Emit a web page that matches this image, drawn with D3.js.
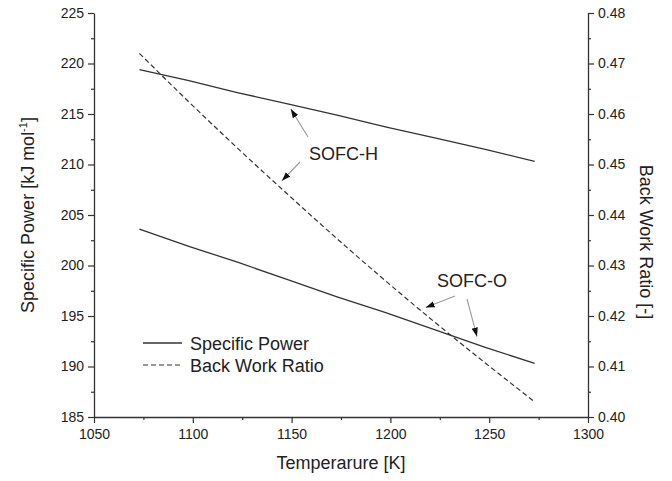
<!DOCTYPE html>
<html><head><meta charset="utf-8">
<script src="https://cdn.jsdelivr.net/npm/d3@7/dist/d3.min.js"></script>
<style>
html,body{margin:0;padding:0;background:#fff;}
text{font-family:"Liberation Sans",Arial,sans-serif;fill:#222;}
</style></head>
<body>
<svg id="c" width="672" height="481"></svg>
<script>
// ---- data ----
const temperature = [1073, 1098, 1123, 1148, 1173, 1198, 1223, 1248, 1273];
const powerSOFC_H = [219.4, 218.3, 217.1, 216.0, 214.9, 213.7, 212.6, 211.5, 210.3];
const powerSOFC_O = [203.6, 201.9, 200.3, 198.6, 196.9, 195.3, 193.6, 191.9, 190.3];
const backWorkRatio = [0.4720, 0.4624, 0.4531, 0.4441, 0.4353, 0.4268, 0.4186, 0.4107, 0.4030];
const xTicks = [1050, 1100, 1150, 1200, 1250, 1300];
const yLeftTicks = [185, 190, 195, 200, 205, 210, 215, 220, 225];
const yRightTicks = [0.40, 0.41, 0.42, 0.43, 0.44, 0.45, 0.46, 0.47, 0.48];
const legendLabels = ["Specific Power", "Back Work Ratio"];
const annotationLabels = ["SOFC-H", "SOFC-O"];

const svg = d3.select("#c");
const L = 94, R = 588, T = 13, B = 417;
const x = d3.scaleLinear().domain([1050, 1300]).range([L, R]);
const yL = d3.scaleLinear().domain([185, 225]).range([B, T]);
const yR = d3.scaleLinear().domain([0.40, 0.48]).range([B, T]);
const ink = "#333";

function styleAxis(g, fs) {
  g.selectAll("path.domain").attr("stroke", ink).attr("stroke-width", 1.3);
  g.selectAll(".tick line").attr("stroke", ink).attr("stroke-width", 1.2);
  g.selectAll("text").attr("font-size", fs).attr("font-family", '"Liberation Sans",Arial,sans-serif').attr("fill", "#222");
}
const mid = (arr, step) => arr.slice(0, -1).map(v => +(v + step).toFixed(4));

// bottom axis
svg.append("g").attr("transform", `translate(0,${B})`)
  .call(d3.axisBottom(x).tickValues(mid(xTicks, 25)).tickSize(3).tickFormat("")).call(g => styleAxis(g, 14))
  .call(g => g.select(".domain").remove());
svg.append("g").attr("transform", `translate(0,${B})`)
  .call(d3.axisBottom(x).tickValues(xTicks).tickSizeInner(6).tickSizeOuter(0).tickPadding(6).tickFormat(d3.format("d")))
  .call(g => styleAxis(g, 14));
// left axis
svg.append("g").attr("transform", `translate(${L},0)`)
  .call(d3.axisLeft(yL).tickValues(mid(yLeftTicks, 2.5)).tickSize(3).tickFormat("")).call(g => styleAxis(g, 14))
  .call(g => g.select(".domain").remove());
svg.append("g").attr("transform", `translate(${L},0)`)
  .call(d3.axisLeft(yL).tickValues(yLeftTicks).tickSizeInner(6).tickSizeOuter(0).tickPadding(4).tickFormat(d3.format("d")))
  .call(g => styleAxis(g, 14));
// right axis
svg.append("g").attr("transform", `translate(${R},0)`)
  .call(d3.axisRight(yR).tickValues(mid(yRightTicks, 0.005)).tickSize(3).tickFormat("")).call(g => styleAxis(g, 14))
  .call(g => g.select(".domain").remove());
svg.append("g").attr("transform", `translate(${R},0)`)
  .call(d3.axisRight(yR).tickValues(yRightTicks).tickSizeInner(6).tickSizeOuter(0).tickPadding(4).tickFormat(d3.format(".2f")))
  .call(g => styleAxis(g, 14));

// axis titles
svg.append("text").attr("x", (L + R) / 2).attr("y", 469).attr("text-anchor", "middle")
  .attr("font-size", 18).text("Temperarure [K]");
const lt = svg.append("text").attr("transform", `translate(34,215) rotate(-90)`).attr("text-anchor", "middle").attr("font-size", 18);
lt.append("tspan").text("Specific Power [kJ mol");
lt.append("tspan").attr("font-size", 11).attr("dy", -7).text("-1");
lt.append("tspan").attr("dy", 7).text("]");
svg.append("text").attr("transform", `translate(640,242) rotate(90)`).attr("text-anchor", "middle")
  .attr("font-size", 18).text("Back Work Ratio [-]");

// lines
const lineL = d3.line().x((d, i) => x(temperature[i])).y(d => yL(d));
const lineR = d3.line().x((d, i) => x(temperature[i])).y(d => yR(d)).curve(d3.curveMonotoneX);
svg.append("path").datum(powerSOFC_H).attr("d", lineL).attr("fill", "none").attr("stroke", ink).attr("stroke-width", 1.3);
svg.append("path").datum(powerSOFC_O).attr("d", lineL).attr("fill", "none").attr("stroke", ink).attr("stroke-width", 1.3);
svg.append("path").datum(backWorkRatio).attr("d", lineR).attr("fill", "none").attr("stroke", ink).attr("stroke-width", 1.2).attr("stroke-dasharray", "5,3");

// legend
[0, 1].forEach(i => {
  const yy = 343 + i * 22;
  svg.append("line").attr("x1", 143).attr("x2", 182).attr("y1", yy).attr("y2", yy)
    .attr("stroke", ink).attr("stroke-width", i ? 1.2 : 1.3).attr("stroke-dasharray", i ? "5,3" : null);
  svg.append("text").attr("x", 190).attr("y", yy + 6.5).attr("font-size", 18).text(legendLabels[i]);
});

// annotations
svg.append("defs").append("marker").attr("id", "ah").attr("viewBox", "0 0 10 10").attr("refX", 10).attr("refY", 5)
  .attr("markerWidth", 9).attr("markerHeight", 9).attr("markerUnits", "userSpaceOnUse").attr("orient", "auto")
  .append("path").attr("d", "M0,1.5 L10,5 L0,8.5 Z").attr("fill", "#111");
const valAt = (arr, t) => {
  const i = d3.bisectLeft(temperature, t);
  const i0 = Math.max(0, Math.min(temperature.length - 2, i - 1));
  const f = (t - temperature[i0]) / (temperature[i0 + 1] - temperature[i0]);
  return arr[i0] + f * (arr[i0 + 1] - arr[i0]);
};
function arrow(tx, ty, px, py, gap) {
  const dx = tx - px, dy = ty - py, len = Math.hypot(dx, dy);
  const hx = px + dx / len * gap, hy = py + dy / len * gap;
  svg.append("line").attr("x1", tx).attr("y1", ty).attr("x2", hx).attr("y2", hy)
    .attr("stroke", "#999").attr("stroke-width", 1.1).attr("marker-end", "url(#ah)");
}
svg.append("text").attr("x", 309).attr("y", 159.5).attr("font-size", 18).text(annotationLabels[0]);
arrow(308, 137, x(1148), yL(valAt(powerSOFC_H, 1148)), 6);
arrow(300, 162, x(1143), yR(valAt(backWorkRatio, 1143)), 6);
svg.append("text").attr("x", 437).attr("y", 287).attr("font-size", 18).text(annotationLabels[1]);
arrow(455, 296, x(1215), yR(valAt(backWorkRatio, 1215)), 6);
arrow(467, 299, x(1245), yL(valAt(powerSOFC_O, 1245)), 9);
</script>
</body></html>
